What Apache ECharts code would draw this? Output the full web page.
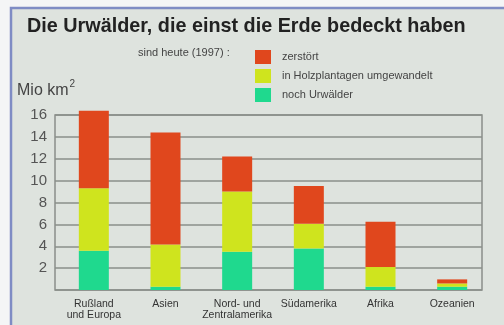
<!DOCTYPE html>
<html>
<head>
<meta charset="utf-8">
<script src="https://cdn.jsdelivr.net/npm/echarts@6/dist/echarts.min.js"></script>
<style>
html,body{margin:0;padding:0;background:#f4f5f6;}
#chart{width:504px;height:325px;}
</style>
</head>
<body>
<div id="chart"></div>
<script>
const categories = ['Rußland\nund Europa', 'Asien', 'Nord- und\nZentralamerika', 'Südamerika', 'Afrika', 'Ozeanien'];
const urwaelder = [3.6, 0.3, 3.5, 3.8, 0.3, 0.3];
const holzplantagen = [5.7, 3.85, 5.5, 2.25, 1.8, 0.3];
const zerstoert = [7.1, 10.25, 3.2, 3.45, 4.15, 0.37];
const yTicks = [0, 2, 4, 6, 8, 10, 12, 14, 16];

const seriesNames = ['zerstört', 'in Holzplantagen umgewandelt', 'noch Urwälder'];
const colors = {red: '#e0471d', yellow: '#cfe41e', green: '#1fd98e'};

const chart = echarts.init(document.getElementById('chart'), null, {renderer: 'canvas'});
const font = 'Liberation Sans, Arial, sans-serif';

chart.setOption({
  backgroundColor: 'transparent',
  animation: false,
  textStyle: {fontFamily: font},
  graphic: [
    {type: 'rect', z: -10, shape: {x: 11, y: 8, width: 520, height: 340},
     style: {fill: '#dee3de', stroke: '#7f8cc4', lineWidth: 2.5}},
    {type: 'text', left: 138, top: 47, style: {text: 'sind heute (1997) :', font: '11px ' + font, fill: '#444'}},
    {type: 'text', left: 17, top: 79, style: {
      text: '{a|Mio km}{b|2}', rich: {
        a: {fontSize: 16, fontFamily: font, fill: '#444', color: '#444', verticalAlign: 'bottom'},
        b: {fontSize: 10, fontFamily: font, fill: '#444', color: '#444', verticalAlign: 'top', padding: [0, 0, 10, 1]}
      }}}
  ],
  title: {
    text: 'Die Urwälder, die einst die Erde bedeckt haben',
    left: 22, top: 12,
    textStyle: {fontSize: 19.8, fontWeight: 'bold', color: '#222', fontFamily: font}
  },
  legend: {
    data: seriesNames,
    orient: 'vertical',
    left: 250, top: 45,
    itemWidth: 16, itemHeight: 14, itemGap: 5,
    icon: 'rect',
    textStyle: {fontSize: 11, color: '#444', fontFamily: font, padding: [0, 0, 0, 6]},
    selectedMode: false
  },
  grid: [
    {left: 55, right: 22, top: 115, bottom: 35, show: true, borderColor: '#8a8f8a', borderWidth: 1.5, backgroundColor: 'transparent'},
    {left: 58, right: 16, top: 115, bottom: 35}
  ],
  xAxis: [
    {type: 'category', gridIndex: 0, data: categories, axisLine: {show: false}, axisTick: {show: false}, axisLabel: {show: false}},
    {type: 'category', gridIndex: 1, data: categories, axisLine: {show: false}, axisTick: {show: false},
     axisLabel: {fontSize: 10.5, color: '#333', fontFamily: font, lineHeight: 11, margin: 9, interval: 0}}
  ],
  yAxis: [
    {type: 'value', gridIndex: 0, min: 0, max: 16, interval: 2,
     axisLine: {show: false}, axisTick: {show: false},
     splitLine: {lineStyle: {color: '#8a8f8a', width: 1.5}},
     axisLabel: {fontSize: 15, color: '#555', fontFamily: font, margin: 8,
       formatter: v => (v === yTicks[0] ? '' : String(v))}},
    {type: 'value', gridIndex: 1, min: 0, max: 16, interval: 2, show: false}
  ],
  series: [
    {name: 'noch Urwälder', type: 'bar', stack: 's', clip: false, xAxisIndex: 1, yAxisIndex: 1, barWidth: 30, data: urwaelder, itemStyle: {color: colors.green}},
    {name: 'in Holzplantagen umgewandelt', type: 'bar', stack: 's', clip: false, xAxisIndex: 1, yAxisIndex: 1, barWidth: 30, data: holzplantagen, itemStyle: {color: colors.yellow}},
    {name: 'zerstört', type: 'bar', stack: 's', clip: false, xAxisIndex: 1, yAxisIndex: 1, barWidth: 30, data: zerstoert, itemStyle: {color: colors.red}}
  ]
});
</script>
</body>
</html>
